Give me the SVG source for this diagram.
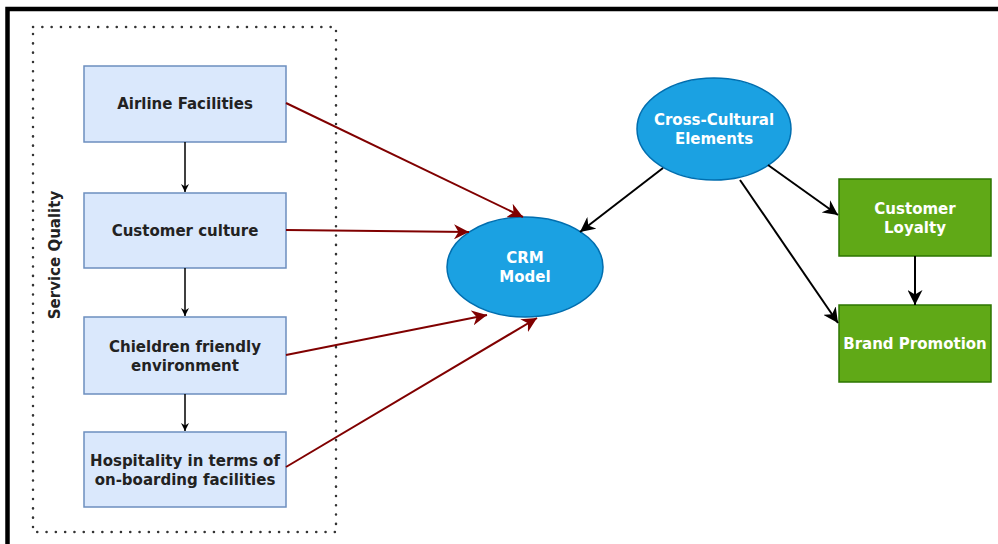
<svg xmlns="http://www.w3.org/2000/svg" width="998" height="544" viewBox="0 0 998 544">
<style>
.bx{fill:#dae8fc;stroke:#6c8ebf;stroke-width:1.5}
.el{fill:#1ba1e2;stroke:#006eaf;stroke-width:1.5}
.gr{fill:#60a917;stroke:#2d7600;stroke-width:1.5}
.t{font-family:"DejaVu Sans",Verdana,sans-serif;font-weight:bold;font-size:15px;text-anchor:middle;fill:#222}
.w{fill:#fff}
.blk{stroke:#000;stroke-width:1.5;fill:none}
.blk2{stroke:#000;stroke-width:2;fill:none}
.red{stroke:#800000;stroke-width:2;fill:none}
</style>
<defs>
<marker id="ab" viewBox="0 0 10 10" refX="10" refY="5" markerWidth="8" markerHeight="8" markerUnits="userSpaceOnUse" orient="auto"><path d="M0,0 L10,5 L0,10 L3,5 Z" fill="#000"/></marker>
<marker id="ab2" viewBox="0 0 10 10" refX="10" refY="5" markerWidth="15" markerHeight="15" markerUnits="userSpaceOnUse" orient="auto"><path d="M0,0 L10,5 L0,10 L3,5 Z" fill="#000"/></marker>
<marker id="ar" viewBox="0 0 10 10" refX="10" refY="5" markerWidth="15" markerHeight="15" markerUnits="userSpaceOnUse" orient="auto"><path d="M0,0 L10,5 L0,10 L3,5 Z" fill="#800000"/></marker>
</defs>
<rect width="998" height="544" fill="#fff"/>
<path d="M7.5,544 V9 H998" stroke="#000" stroke-width="4.5" fill="none"/>
<g id="service-quality">
<rect x="33" y="27" width="303" height="505" fill="none" stroke="#333" stroke-width="2.5" stroke-dasharray="0.1 9.2" stroke-linecap="round"/>
<text class="t" transform="translate(60,255) rotate(-90)" font-size="14">Service Quality</text>
</g>
<g id="airline"><rect class="bx" x="84" y="66" width="202" height="76"/><text class="t" x="185" y="109">Airline Facilities</text></g>
<g id="customer-culture"><rect class="bx" x="84" y="193" width="202" height="75"/><text class="t" x="185" y="236">Customer culture</text></g>
<g id="children"><rect class="bx" x="84" y="317" width="202" height="77"/><text class="t" x="185" y="352">Chieldren friendly</text><text class="t" x="185" y="371">environment</text></g>
<g id="hospitality"><rect class="bx" x="84" y="432" width="202" height="75"/><text class="t" x="185" y="466">Hospitality in terms of</text><text class="t" x="185" y="485">on-boarding facilities</text></g>
<g id="crm"><ellipse class="el" cx="525" cy="267" rx="78" ry="50"/><text class="t w" x="525" y="263">CRM</text><text class="t w" x="525" y="282">Model</text></g>
<g id="cross"><ellipse class="el" cx="714" cy="129" rx="77" ry="51"/><text class="t w" x="714" y="125">Cross-Cultural</text><text class="t w" x="714" y="144">Elements</text></g>
<g id="loyalty"><rect class="gr" x="839" y="179" width="152" height="77"/><text class="t w" x="915" y="214">Customer</text><text class="t w" x="915" y="233">Loyalty</text></g>
<g id="brand"><rect class="gr" x="839" y="305" width="152" height="77"/><text class="t w" x="915" y="349">Brand Promotion</text></g>
<g id="connectors">
<line class="blk" x1="185" y1="142" x2="185" y2="192" marker-end="url(#ab)"/>
<line class="blk" x1="185" y1="268" x2="185" y2="316" marker-end="url(#ab)"/>
<line class="blk" x1="185" y1="394" x2="185" y2="431" marker-end="url(#ab)"/>
<line class="red" x1="286" y1="103" x2="523" y2="217" marker-end="url(#ar)"/>
<line class="red" x1="286" y1="230" x2="469" y2="232" marker-end="url(#ar)"/>
<line class="red" x1="286" y1="355" x2="487" y2="315" marker-end="url(#ar)"/>
<line class="red" x1="286" y1="467" x2="537" y2="318" marker-end="url(#ar)"/>
<line class="blk2" x1="663" y1="168" x2="580" y2="232" marker-end="url(#ab2)"/>
<line class="blk2" x1="768" y1="165" x2="838" y2="215" marker-end="url(#ab2)"/>
<line class="blk2" x1="740" y1="180" x2="838" y2="323" marker-end="url(#ab2)"/>
<line class="blk2" x1="915" y1="256" x2="915" y2="305" marker-end="url(#ab2)"/>
</g>
</svg>
